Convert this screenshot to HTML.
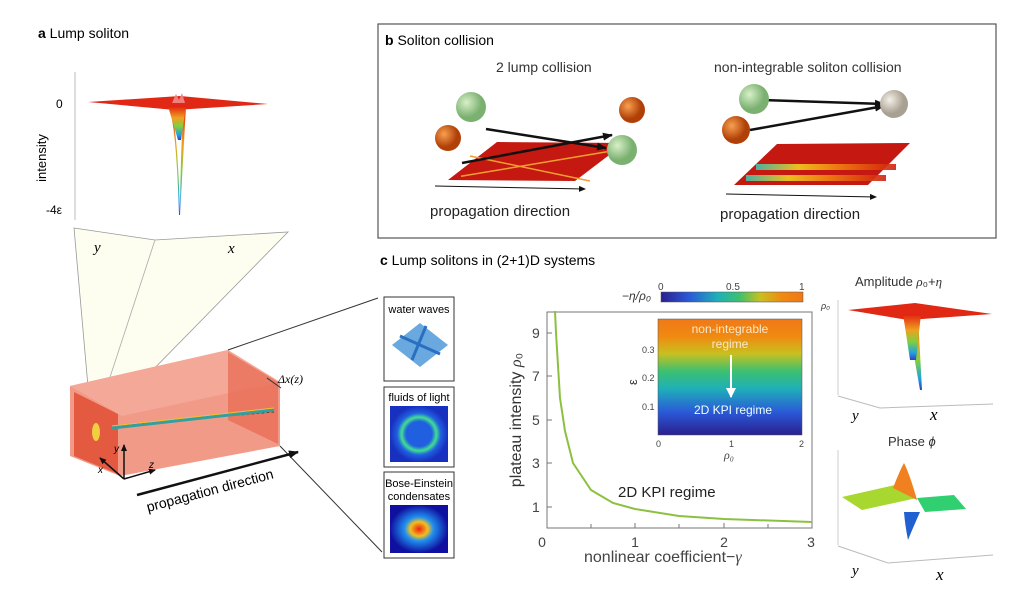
<!DOCTYPE html>
<html><head><meta charset="utf-8"><style>
html,body{margin:0;padding:0;background:#fff;}
svg{display:block;font-family:"Liberation Sans",sans-serif;}
</style></head><body>
<svg width="1024" height="605" viewBox="0 0 1024 605" xmlns="http://www.w3.org/2000/svg">
<defs>
<linearGradient id="jet" x1="0" x2="1" y1="0" y2="0">
<stop offset="0" stop-color="#2a1f8f"/><stop offset="0.2" stop-color="#2a5ad8"/><stop offset="0.4" stop-color="#1fb0b8"/><stop offset="0.55" stop-color="#3cc070"/><stop offset="0.7" stop-color="#c8c020"/><stop offset="0.85" stop-color="#f08a10"/><stop offset="1" stop-color="#f07818"/></linearGradient>
<linearGradient id="jetv" x1="0" x2="0" y1="1" y2="0">
<stop offset="0" stop-color="#2a1f8f"/><stop offset="0.2" stop-color="#2a5ad8"/><stop offset="0.4" stop-color="#1fb0b8"/><stop offset="0.55" stop-color="#3cc070"/><stop offset="0.7" stop-color="#c8c020"/><stop offset="0.85" stop-color="#f08a10"/><stop offset="1" stop-color="#f07818"/></linearGradient>
<linearGradient id="spike" x1="0" x2="0" y1="0" y2="1">
<stop offset="0" stop-color="#e02010"/><stop offset="0.35" stop-color="#f0a020"/><stop offset="0.6" stop-color="#80d040"/><stop offset="0.85" stop-color="#20a0e0"/><stop offset="1" stop-color="#3040c0"/></linearGradient>
<radialGradient id="green" cx="0.35" cy="0.35"><stop offset="0" stop-color="#d8f0c8"/><stop offset="1" stop-color="#7ab070"/></radialGradient>
<radialGradient id="orange" cx="0.35" cy="0.35"><stop offset="0" stop-color="#f8a050"/><stop offset="1" stop-color="#b04008"/></radialGradient>
<radialGradient id="grey" cx="0.35" cy="0.35"><stop offset="0" stop-color="#f4f0e8"/><stop offset="1" stop-color="#a8a090"/></radialGradient>
<radialGradient id="ring" cx="0.5" cy="0.5"><stop offset="0" stop-color="#2060e0"/><stop offset="0.45" stop-color="#2060e0"/><stop offset="0.6" stop-color="#40e090"/><stop offset="0.75" stop-color="#2060e0"/><stop offset="1" stop-color="#1830c0"/></radialGradient>
<radialGradient id="bec" cx="0.5" cy="0.5" rx="0.5" ry="0.15"><stop offset="0" stop-color="#f02010"/><stop offset="0.3" stop-color="#f0c020"/><stop offset="0.5" stop-color="#2090f0"/><stop offset="1" stop-color="#1010a0"/></radialGradient>
<marker id="ah" markerUnits="userSpaceOnUse" markerWidth="10" markerHeight="8" refX="9" refY="4" orient="auto"><path d="M0,0 L10,4 L0,8 z" fill="#111"/></marker>
<marker id="ahs" markerUnits="userSpaceOnUse" markerWidth="7" markerHeight="6" refX="6" refY="3" orient="auto"><path d="M0,0 L7,3 L0,6 z" fill="#111"/></marker>
<marker id="ahw" markerUnits="userSpaceOnUse" markerWidth="10" markerHeight="10" refX="9" refY="5" orient="auto"><path d="M0,0 L10,5 L0,10 z" fill="#fff"/></marker>
<linearGradient id="stripe" x1="0" x2="1"><stop offset="0" stop-color="#40c0b0"/><stop offset="0.3" stop-color="#f0d020"/><stop offset="0.6" stop-color="#f08010"/><stop offset="1" stop-color="#d02010"/></linearGradient>
</defs>

<!-- a -->
<text x="38" y="38" font-size="14"><tspan font-weight="bold">a</tspan> Lump soliton</text>
<line x1="75" y1="72" x2="75" y2="220" stroke="#bbb"/>
<text x="56" y="108" font-size="12">0</text>
<text x="46" y="214" font-size="12">-4ε</text>
<text x="46" y="158" font-size="13" transform="rotate(-90 46 158)" text-anchor="middle">intensity</text>
<polygon points="88,102 180,96 268,104 175,110" fill="#e02814"/>
<path d="M172,103 L176,94 L179,100 L182,93 L185,103 Z" fill="#f08080"/>
<path d="M168,106 Q177,110 180,215 L179,215 Q176,120 168,106 Z M186,106 Q181,110 180,215 Z" fill="url(#spike)"/>
<polygon points="168,106 186,106 181,140 178,140" fill="url(#spike)"/>
<!-- cone -->
<polygon points="74,228 155,240 288,232 92,432" fill="#fdfdf0" stroke="#999" stroke-width="0.8"/>
<line x1="155" y1="240" x2="92" y2="432" stroke="#aaa" stroke-width="0.8"/>
<text x="94" y="252" font-size="15" font-style="italic" font-family="Liberation Serif,serif">y</text>
<text x="228" y="253" font-size="15" font-style="italic" font-family="Liberation Serif,serif">x</text>
<!-- box -->
<polygon points="70,386 228,350 280,382 280,446 120,476 70,456" fill="#f29a88"/>
<polygon points="70,386 228,350 280,382 122,416" fill="#f4a898"/>
<polygon points="74,392 118,414 118,474 74,456" fill="#e04a30" opacity="0.8"/>
<polygon points="228,352 278,382 278,444 228,420" fill="#e86850" opacity="0.7"/>
<line x1="112" y1="426" x2="274" y2="412" stroke="#333" stroke-dasharray="3,2" stroke-width="0.8"/>
<line x1="112" y1="428" x2="274" y2="410" stroke="#30a0a0" stroke-width="3"/>
<line x1="112" y1="426" x2="274" y2="408" stroke="#f0c030" stroke-width="1"/>
<ellipse cx="96" cy="432" rx="4" ry="9" fill="#f0d040"/>
<line x1="228" y1="350" x2="378" y2="298" stroke="#333" stroke-width="1"/>
<line x1="280" y1="446" x2="382" y2="552" stroke="#333" stroke-width="1"/>
<line x1="267" y1="378" x2="281" y2="388" stroke="#333"/>
<text x="278" y="383" font-size="12" font-style="italic" font-family="Liberation Serif,serif">Δx(z)</text>
<path d="M124,479 L124,445" stroke="#111" stroke-width="1.5" marker-end="url(#ahs)"/>
<path d="M124,479 L155,470" stroke="#111" stroke-width="1.5" marker-end="url(#ahs)"/>
<path d="M124,479 L100,458" stroke="#111" stroke-width="1.5" marker-end="url(#ahs)"/>
<text x="114" y="452" font-size="10" font-style="italic">y</text>
<text x="149" y="468" font-size="10" font-style="italic">z</text>
<text x="98" y="473" font-size="10" font-style="italic">x</text>
<path d="M137,495 L298,452" stroke="#111" stroke-width="2.5" marker-end="url(#ah)"/>
<text x="148" y="512" font-size="14" transform="rotate(-15 148 512)">propagation direction</text>

<!-- small boxes -->
<rect x="384" y="297" width="70" height="84" fill="#fff" stroke="#333"/>
<text x="419" y="313" font-size="11" text-anchor="middle">water waves</text>
<polygon points="392,345 420,323 448,345 420,367" fill="#6aa8e0"/>
<line x1="400" y1="336" x2="440" y2="354" stroke="#2a70c0" stroke-width="3"/>
<line x1="412" y1="360" x2="426" y2="326" stroke="#2a70c0" stroke-width="3"/>
<rect x="384" y="387" width="70" height="80" fill="#fff" stroke="#333"/>
<text x="419" y="401" font-size="11" text-anchor="middle">fluids of light</text>
<rect x="390" y="406" width="58" height="56" fill="url(#ring)"/>
<rect x="384" y="472" width="70" height="86" fill="#fff" stroke="#333"/>
<text x="419" y="487" font-size="11" text-anchor="middle">Bose-Einstein</text>
<text x="419" y="500" font-size="11" text-anchor="middle">condensates</text>
<rect x="390" y="505" width="58" height="48" fill="url(#bec)"/>

<!-- b -->
<rect x="378" y="24" width="618" height="214" fill="#fff" stroke="#555" stroke-width="1.2"/>
<text x="385" y="45" font-size="14"><tspan font-weight="bold">b</tspan> Soliton collision</text>
<text x="496" y="72" font-size="14" fill="#333">2 lump collision</text>
<text x="714" y="72" font-size="14" fill="#333">non-integrable soliton collision</text>
<polygon points="448,180 497,142 625,143 575,181" fill="#c41810"/>
<line x1="460" y1="166" x2="608" y2="162" stroke="#f0a030" stroke-width="1.5" transform="rotate(-8 534 164)"/>
<line x1="470" y1="156" x2="590" y2="181" stroke="#f0a030" stroke-width="1.5"/>
<line x1="486" y1="129" x2="606" y2="148" stroke="#111" stroke-width="2.5" marker-end="url(#ah)"/>
<line x1="462" y1="163" x2="612" y2="135" stroke="#111" stroke-width="2.5" marker-end="url(#ah)"/>
<circle cx="471" cy="107" r="15" fill="url(#green)"/>
<circle cx="448" cy="138" r="13" fill="url(#orange)"/>
<circle cx="632" cy="110" r="13" fill="url(#orange)"/>
<circle cx="622" cy="150" r="15" fill="url(#green)"/>
<line x1="435" y1="186" x2="585" y2="189" stroke="#111" stroke-width="1" marker-end="url(#ahs)"/>
<text x="430" y="216" font-size="15" fill="#222">propagation direction</text>
<polygon points="734,185 777,144 910,143 868,185" fill="#c41810"/>
<rect x="756" y="164" width="140" height="6" fill="url(#stripe)" opacity="0.9"/>
<rect x="746" y="175" width="140" height="6" fill="url(#stripe)" opacity="0.9"/>
<line x1="762" y1="100" x2="884" y2="104" stroke="#111" stroke-width="2.5" marker-end="url(#ah)"/>
<line x1="750" y1="130" x2="884" y2="106" stroke="#111" stroke-width="2.5" marker-end="url(#ah)"/>
<circle cx="754" cy="99" r="15" fill="url(#green)"/>
<circle cx="736" cy="130" r="14" fill="url(#orange)"/>
<circle cx="894" cy="104" r="14" fill="url(#grey)"/>
<line x1="726" y1="194" x2="876" y2="197" stroke="#111" stroke-width="1" marker-end="url(#ahs)"/>
<text x="720" y="219" font-size="15" fill="#222">propagation direction</text>

<!-- c -->
<text x="380" y="265" font-size="14"><tspan font-weight="bold">c</tspan> Lump solitons in  (2+1)D systems</text>
<rect x="547" y="312" width="265" height="216" fill="#fff" stroke="#777"/>
<g stroke="#777">
<line x1="591" y1="528" x2="591" y2="524"/><line x1="635" y1="528" x2="635" y2="523"/><line x1="679" y1="528" x2="679" y2="524"/><line x1="724" y1="528" x2="724" y2="523"/><line x1="768" y1="528" x2="768" y2="524"/>
<line x1="547" y1="333" x2="552" y2="333"/><line x1="547" y1="376" x2="552" y2="376"/><line x1="547" y1="420" x2="552" y2="420"/><line x1="547" y1="463" x2="552" y2="463"/><line x1="547" y1="507" x2="552" y2="507"/>
</g>
<g font-size="14" fill="#444">
<text x="542" y="547" text-anchor="middle">0</text><text x="635" y="547" text-anchor="middle">1</text><text x="724" y="547" text-anchor="middle">2</text><text x="811" y="547" text-anchor="middle">3</text>
<text x="532" y="338">9</text><text x="532" y="381">7</text><text x="532" y="425">5</text><text x="532" y="468">3</text><text x="532" y="512">1</text>
</g>
<text x="584" y="562" font-size="16" fill="#444">nonlinear coefficient−<tspan font-style="italic" font-family="Liberation Serif,serif">γ</tspan></text>
<text x="521" y="420" font-size="16" fill="#333" transform="rotate(-90 521 420)" text-anchor="middle">plateau intensity <tspan font-style="italic" font-family="Liberation Serif,serif">ρ</tspan>₀</text>
<polyline points="555,311 556,333 560,398 565,431 573,463 591,490 613,503 635,509 679,516 724,519 812,522" fill="none" stroke="#8cc040" stroke-width="2"/>
<text x="618" y="497" font-size="15" fill="#222">2D KPI regime</text>
<!-- colorbar -->
<rect x="661" y="292" width="142" height="10" fill="url(#jet)" stroke="#555" stroke-width="0.5"/>
<text x="658" y="290" font-size="10" fill="#444">0</text><text x="726" y="290" font-size="10" fill="#444">0.5</text><text x="799" y="290" font-size="10" fill="#444">1</text>
<text x="622" y="300" font-size="12" fill="#333" font-style="italic">−η/ρ₀</text>
<!-- inset -->
<rect x="658" y="319" width="144" height="116" fill="url(#jetv)" stroke="#555" stroke-width="0.5"/>
<text x="730" y="333" font-size="12" fill="#f8e8c8" text-anchor="middle">non-integrable</text>
<text x="730" y="348" font-size="12" fill="#f8e8c8" text-anchor="middle">regime</text>
<line x1="731" y1="355" x2="731" y2="397" stroke="#fff" stroke-width="2" marker-end="url(#ahw)"/>
<text x="733" y="414" font-size="12" fill="#f0fff8" text-anchor="middle">2D KPI regime</text>
<g font-size="9" fill="#444"><text x="642" y="353">0.3</text><text x="642" y="381">0.2</text><text x="642" y="410">0.1</text>
<text x="656" y="447">0</text><text x="729" y="447">1</text><text x="799" y="447">2</text></g>
<text x="637" y="385" font-size="13" transform="rotate(-90 637 385)" fill="#333">ε</text>
<text x="724" y="459" font-size="12" font-style="italic" fill="#444" font-family="Liberation Serif,serif">ρ₀</text>

<!-- right -->
<text x="855" y="286" font-size="13" fill="#333">Amplitude <tspan font-style="italic" font-family="Liberation Serif,serif">ρ</tspan>₀+<tspan font-style="italic" font-family="Liberation Serif,serif">η</tspan></text>
<text x="821" y="309" font-size="9" font-style="italic" fill="#333">ρ₀</text>
<line x1="838" y1="300" x2="838" y2="395" stroke="#ccc"/>
<polyline points="838,396 880,408 993,404" fill="none" stroke="#bbb"/>
<polygon points="848,310 915,303 992,314 908,320" fill="#e02814"/>
<polygon points="907,316 918,316 922,390 920,390" fill="url(#spike)"/>
<polygon points="903,314 921,314 916,360 910,360" fill="url(#spike)"/>
<text x="852" y="420" font-size="15" font-style="italic" font-family="Liberation Serif,serif">y</text>
<text x="930" y="420" font-size="17" font-style="italic" font-family="Liberation Serif,serif">x</text>
<text x="888" y="446" font-size="13" fill="#333">Phase <tspan font-style="italic">ϕ</tspan></text>
<line x1="838" y1="450" x2="838" y2="545" stroke="#ccc"/>
<polyline points="838,546 888,563 993,555" fill="none" stroke="#bbb"/>
<polygon points="842,497 895,485 917,498 862,510" fill="#a8d830"/>
<polygon points="917,498 954,495 966,509 925,512" fill="#30d070"/>
<path d="M893,488 Q900,470 904,463 Q910,475 917,500 Z" fill="#f08020"/>
<path d="M904,512 L920,512 Q912,530 908,540 Q905,525 904,512 Z" fill="#2060d0"/>
<text x="852" y="575" font-size="15" font-style="italic" font-family="Liberation Serif,serif">y</text>
<text x="936" y="580" font-size="17" font-style="italic" font-family="Liberation Serif,serif">x</text>
</svg>
</body></html>
